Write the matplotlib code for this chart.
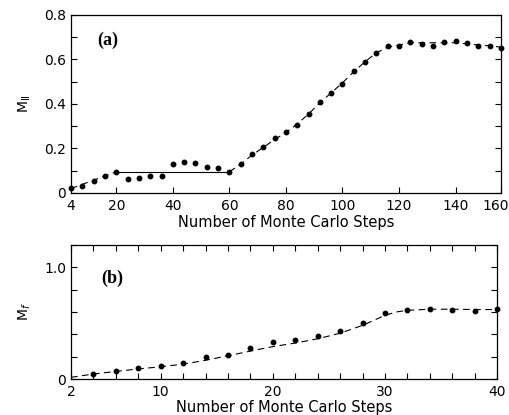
import matplotlib
matplotlib.use("Agg")
import matplotlib.pyplot as plt
from matplotlib.ticker import MultipleLocator
from matplotlib.transforms import ScaledTranslation

# panel (a): M_II vs Monte Carlo steps
steps_a = [4, 8, 12, 16, 20, 24, 28, 32, 36, 40, 44, 48, 52, 56, 60, 64, 68, 72, 76, 80,
           84, 88, 92, 96, 100, 104, 108, 112, 116, 120, 124, 128, 132, 136, 140, 144,
           148, 152, 156]
m_ii = [0.021, 0.030, 0.052, 0.077, 0.095, 0.063, 0.066, 0.075, 0.076, 0.130, 0.141,
        0.136, 0.118, 0.114, 0.096, 0.130, 0.175, 0.208, 0.246, 0.276, 0.306, 0.354,
        0.407, 0.448, 0.488, 0.548, 0.590, 0.630, 0.660, 0.662, 0.680, 0.670, 0.660,
        0.680, 0.684, 0.673, 0.662, 0.662, 0.650]

# fitted curve of panel (a), drawn piecewise
fit_a_rise_x = [4, 20]
fit_a_rise_y = [0.020, 0.095]
fit_a_flat_x = [20, 60]
fit_a_flat_y = [0.095, 0.095]
fit_a_up_x = [60, 64, 68, 72, 76, 80, 84, 88, 92, 96, 100, 104, 108, 112, 116, 120,
              124, 128, 132, 136, 140, 144, 148, 152, 156]
fit_a_up_y = [0.095, 0.130, 0.170, 0.205, 0.240, 0.272, 0.310, 0.355, 0.405, 0.450,
              0.495, 0.545, 0.590, 0.630, 0.655, 0.665, 0.675, 0.675, 0.675, 0.675,
              0.675, 0.670, 0.665, 0.662, 0.655]

# panel (b): M_f vs Monte Carlo steps
steps_b = [4, 6, 8, 10, 12, 14, 16, 18, 20, 22, 24, 26, 28, 30, 32, 34, 36, 38, 40]
m_f = [0.042, 0.071, 0.095, 0.115, 0.139, 0.198, 0.213, 0.282, 0.331, 0.346, 0.385,
       0.426, 0.503, 0.592, 0.619, 0.628, 0.619, 0.610, 0.624]
fit_b_x = [2, 4, 6, 8, 10, 12, 14, 16, 18, 20, 22, 24, 26, 28, 30, 31, 32, 34, 36, 38, 40]
fit_b_y = [0.015, 0.045, 0.068, 0.090, 0.110, 0.133, 0.168, 0.208, 0.250, 0.290, 0.322,
           0.360, 0.410, 0.480, 0.570, 0.600, 0.615, 0.625, 0.625, 0.622, 0.622]

# the original axis ends at 156 but its last label reads 160
xticks_a = [4, 20, 40, 60, 80, 100, 120, 140, 156]
xticklabels_a = ["4", "20", "40", "60", "80", "100", "120", "140", "160"]
yticks_a = [0, 0.2, 0.4, 0.6, 0.8]
yticklabels_a = ["0", "0.2", "0.4", "0.6", "0.8"]
xticks_b = [2, 10, 20, 30, 40]
yticks_b = [0, 1.0]
yticklabels_b = ["0", "1.0"]

XLABEL = "Number of Monte Carlo Steps"
DASH = (0, (6, 4))
FONT = "DejaVu Sans"

plt.rcParams["font.family"] = FONT
plt.rcParams["font.size"] = 9

fig = plt.figure(figsize=(5.09, 4.15), dpi=100)
ax_a = fig.add_axes([0.1395, 0.535, 0.8445, 0.429])
ax_b = fig.add_axes([0.1395, 0.0867, 0.837, 0.323])

# panel (a)
ax_a.plot(fit_a_rise_x, fit_a_rise_y, color="black", linewidth=0.8, linestyle=DASH)
ax_a.plot(fit_a_flat_x, fit_a_flat_y, color="black", linewidth=0.8)
ax_a.plot(fit_a_up_x, fit_a_up_y, color="black", linewidth=0.8, linestyle=DASH)
ax_a.plot(steps_a, m_ii, "o", color="black", markersize=3.2, clip_on=False)
ax_a.set_xlim(4, 156)
ax_a.set_ylim(0, 0.8)
ax_a.set_xticks(xticks_a)
ax_a.set_xticklabels(xticklabels_a)
ax_a.set_yticks(yticks_a)
ax_a.set_yticklabels(yticklabels_a)
ax_a.yaxis.set_minor_locator(MultipleLocator(0.1))
ax_a.set_xlabel(XLABEL, fontsize=10.5, labelpad=2)
ax_a.set_ylabel(r"M$_{\rm II}$", fontsize=10, labelpad=8)
ax_a.text(0.06, 0.83, "(a)", transform=ax_a.transAxes, fontsize=13,
          fontweight="bold", family="Liberation Serif")

# panel (b)
ax_b.plot(fit_b_x, fit_b_y, color="black", linewidth=0.8, linestyle=DASH)
ax_b.plot(steps_b, m_f, "o", color="black", markersize=3.2, clip_on=False)
ax_b.set_xlim(2, 40)
ax_b.set_ylim(0, 1.2)
ax_b.set_xticks(xticks_b)
ax_b.xaxis.set_minor_locator(MultipleLocator(2))
ax_b.set_yticks(yticks_b)
ax_b.set_yticklabels(yticklabels_b)
ax_b.yaxis.set_minor_locator(MultipleLocator(0.2))
ax_b.set_xlabel(XLABEL, fontsize=10.5, labelpad=1)
ax_b.set_ylabel(r"M$_f$", fontsize=10, labelpad=8)
ax_b.text(0.07, 0.72, "(b)", transform=ax_b.transAxes, fontsize=13,
          fontweight="bold", family="Liberation Serif")

for ax in (ax_a, ax_b):
    ax.tick_params(which="both", direction="in", right=True, length=4, width=0.8,
                   labelsize=10)
    ax.tick_params(axis="x", which="both", pad=4)
    for spine in ax.spines.values():
        spine.set_linewidth(0.9)
ax_b.tick_params(axis="x", which="both", top=True)

# pull the last label of panel (a) inside the figure edge
last = ax_a.get_xticklabels()[-1]
last.set_transform(last.get_transform() + ScaledTranslation(-0.05, 0, fig.dpi_scale_trans))

fig.savefig("out.png", dpi=100)
